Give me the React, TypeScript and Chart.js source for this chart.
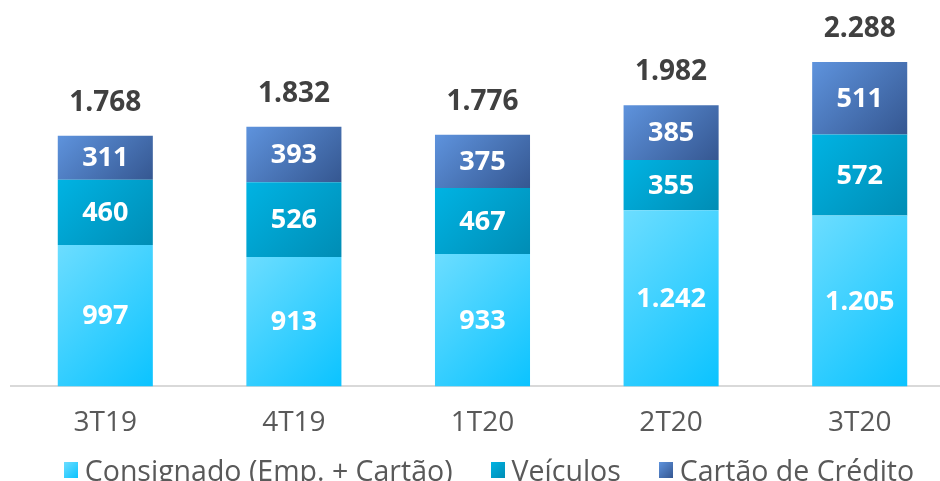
import React, { useEffect, useRef } from "react";
import { Chart, registerables } from "chart.js";

Chart.register(...registerables);

const categories = ["3T19", "4T19", "1T20", "2T20", "3T20"];
const consignado = [997, 913, 933, 1242, 1205];
const veiculos = [460, 526, 467, 355, 572];
const cartao = [311, 393, 375, 385, 511];
const totals = [1768, 1832, 1776, 1982, 2288];
const seriesNames = ["Consignado (Emp. + Cartão)", "Veículos", "Cartão de Crédito"];

const gradStops = [
  ["#6CDDFF", "#0BC3FF"],
  ["#00B3E3", "#008DB5"],
  ["#5E93DD", "#355791"],
];

const BAR_PCT = 0.504;
const FONT = "'Open Sans', 'DejaVu Sans', sans-serif";

function fmt(n: number): string {
  const s = String(Math.round(n));
  return s.replace(/\B(?=(\d{3})+(?!\d))/g, ".");
}

const allData = [consignado, veiculos, cartao];

function makeBg(dsIndex: number) {
  return (ctx: any) => {
    const chart = ctx.chart;
    const xs = chart.scales?.x;
    const ys = chart.scales?.y;
    const area = chart.chartArea;
    const c = chart.ctx as CanvasRenderingContext2D;
    if (!xs || !ys || !area || ctx.dataIndex == null) return gradStops[dsIndex][0];
    const i = ctx.dataIndex;
    let lo = 0;
    for (let k = 0; k < dsIndex; k++) lo += allData[k][i];
    const hi = lo + allData[dsIndex][i];
    const x = xs.getPixelForValue(i);
    const width = (area.width / categories.length) * BAR_PCT;
    const left = x - width / 2;
    const top = ys.getPixelForValue(hi);
    const bottom = ys.getPixelForValue(lo);
    const h = bottom - top;
    const d = (width + h) / 2;
    if (!isFinite(left) || !isFinite(top) || !isFinite(d)) return gradStops[dsIndex][0];
    const g = c.createLinearGradient(left, top, left + d, top + d);
    g.addColorStop(0, gradStops[dsIndex][0]);
    g.addColorStop(1, gradStops[dsIndex][1]);
    return g;
  };
}

const labelPlugin = {
  id: "labelPlugin",
  afterDatasetsDraw(chart: any) {
    const c = chart.ctx as CanvasRenderingContext2D;
    c.save();
    c.textAlign = "center";
    chart.data.datasets.forEach((ds: any, di: number) => {
      const meta = chart.getDatasetMeta(di);
      meta.data.forEach((el: any, i: number) => {
        const { x, y, base } = el.getProps(["x", "y", "base"], true);
        c.fillStyle = "#ffffff";
        c.font = `700 27px ${FONT}`;
        c.textBaseline = "middle";
        c.fillText(fmt(ds.data[i]), x, (y + base) / 2 + 1);
      });
    });
    const lastMeta = chart.getDatasetMeta(chart.data.datasets.length - 1);
    lastMeta.data.forEach((el: any, i: number) => {
      const { x, y } = el.getProps(["x", "y"], true);
      c.fillStyle = "#404040";
      c.font = `700 28px ${FONT}`;
      c.textBaseline = "alphabetic";
      c.fillText(fmt(totals[i]), x, y - 25);
    });
    c.restore();
  },
};

export default function App() {
  const ref = useRef<HTMLCanvasElement>(null);
  useEffect(() => {
    if (!ref.current) return;
    const chart = new Chart(ref.current, {
      type: "bar",
      data: {
        labels: categories,
        datasets: allData.map((d, i) => ({
          label: seriesNames[i],
          data: d,
          backgroundColor: makeBg(i),
          borderWidth: 0,
          categoryPercentage: 1,
          barPercentage: BAR_PCT,
        })),
      },
      options: {
        animation: false,
        responsive: false,
        maintainAspectRatio: false,
        layout: { padding: { top: 0, bottom: 29, left: 11, right: 0 } },
        plugins: { legend: { display: false }, tooltip: { enabled: false } },
        scales: {
          x: {
            stacked: true,
            grid: { display: false },
            border: { display: true, color: "#d9d9d9", width: 2 },
            ticks: {
              color: "#595959",
              padding: 12,
              font: { family: FONT, size: 28, weight: 400 },
            },
          },
          y: {
            stacked: true,
            display: false,
            min: 0,
            max: 2725,
          },
        },
      },
      plugins: [labelPlugin],
    });
    return () => chart.destroy();
  }, []);

  return (
    <div style={{ position: "fixed", left: 0, top: 0, width: 940, height: 481, overflow: "hidden", background: "#fff" }}>
      <canvas ref={ref} width={954} height={481} style={{ position: "absolute", left: 0, top: 0 }} />
      <div
        style={{
          position: "absolute",
          left: 0,
          top: 452,
          width: 940,
          display: "flex",
          justifyContent: "center",
          alignItems: "center",
          fontFamily: FONT,
          fontSize: 28.5,
          color: "#595959",
          lineHeight: "36px",
          paddingLeft: 38,
          boxSizing: "border-box",
        }}
      >
        {seriesNames.map((n, i) => (
          <div key={n} style={{ display: "flex", alignItems: "center", marginRight: i < 2 ? 38 : 0 }}>
            <span
              style={{
                display: "inline-block",
                width: 14,
                height: 16,
                marginRight: 7,
                background: `linear-gradient(135deg, ${gradStops[i][0]}, ${gradStops[i][1]})`,
              }}
            />
            <span style={{ whiteSpace: "nowrap" }}>{n}</span>
          </div>
        ))}
      </div>
    </div>
  );
}
